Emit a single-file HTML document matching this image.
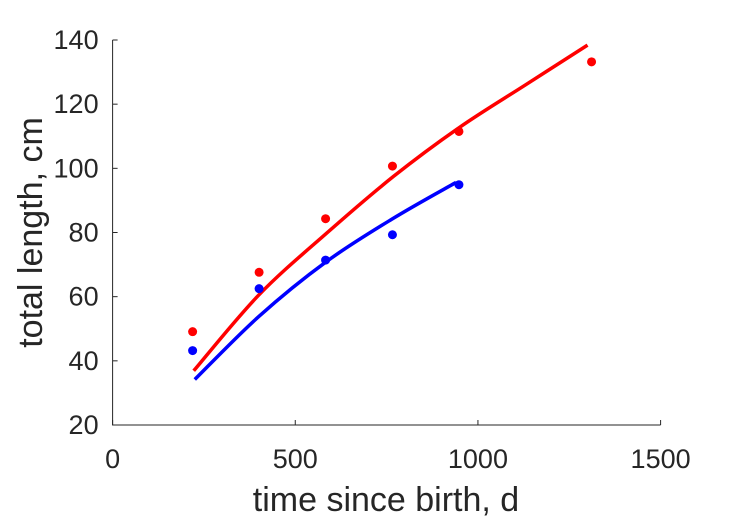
<!DOCTYPE html>
<html><head><meta charset="utf-8"><style>
body{margin:0;background:#fff}
svg{display:block;font-family:"Liberation Sans",sans-serif}
</style></head><body>
<svg id="chart" width="729" height="521" viewBox="0 0 729 521" xmlns="http://www.w3.org/2000/svg">
<rect width="729" height="521" fill="#fff"/>
<g id="axes"></g>
<g id="plot"></g>
</svg>
<script>
const xTicks=[0,500,1000,1500];
const yTicks=[20,40,60,80,100,120,140];
const redX=[219,401,583,766,948,1311];
const redY=[49.1,67.6,84.3,100.7,111.5,133.2];
const blueX=[219,401,583,766,948];
const blueY=[43.2,62.5,71.4,79.3,94.9];
const redFitX=[222,400,585,768,950,1130,1300];
const redFitY=[36.9,60.5,79.7,97.4,112.8,126,138.4];
const blueFitX=[225,400,585,768,940];
const blueFitY=[34.2,53.8,70.9,84.4,95.6];
const X0=112.6,X1=660.6,Y0=425,Y1=40;
const sx=v=>X0+(v-0)/1500*(X1-X0);
const sy=v=>Y0-(v-20)/120*(Y0-Y1);
const NS="http://www.w3.org/2000/svg";
const axes=document.getElementById('axes'),plot=document.getElementById('plot');
function mk(tag,attrs,parent){const e=document.createElementNS(NS,tag);for(const k in attrs)e.setAttribute(k,attrs[k]);parent.appendChild(e);return e;}
let ax=mk('path',{d:`M${X0},${Y1}V${Y0}H${X1}`,stroke:'#262626','stroke-width':1,fill:'none'},axes);


xTicks.forEach(t=>{
 let l=mk('line',{x1:sx(t),x2:sx(t),y1:Y0,y2:Y0-5,stroke:'#262626'},axes);
 
 
 let tx=mk('text',{x:sx(t),y:Y0+43,'text-anchor':'middle','font-size':27,fill:'#262626'},axes);
 tx.textContent=t;
 
 
});
yTicks.forEach(t=>{
 let l=mk('line',{x1:X0,x2:X0+5,y1:sy(t),y2:sy(t),stroke:'#262626'},axes);
 
 
 let tx=mk('text',{x:X0-14,y:sy(t)+9,'text-anchor':'end','font-size':27,fill:'#262626'},axes);
 tx.textContent=t;
 
 
});
let xt=mk('text',{x:386,y:511,'text-anchor':'middle','font-size':34,fill:'#262626'},axes);
xt.textContent='time since birth, d';


let yt=mk('text',{x:0,y:0,'text-anchor':'middle','font-size':34,fill:'#262626',transform:`translate(42,${(Y0+Y1)/2}) rotate(-90)`},axes);
yt.textContent='total length, cm';


function line(xs,ys,col,name){
 const P=xs.map((x,i)=>[sx(x),sy(ys[i])]);
 let d='M'+P[0][0]+','+P[0][1];
 for(let i=0;i<P.length-1;i++){
  const p0=P[i-1]||P[i],p1=P[i],p2=P[i+1],p3=P[i+2]||P[i+1];
  const c1=[p1[0]+(p2[0]-p0[0])/6,p1[1]+(p2[1]-p0[1])/6];
  const c2=[p2[0]-(p3[0]-p1[0])/6,p2[1]-(p3[1]-p1[1])/6];
  d+=`C${c1[0]},${c1[1]} ${c2[0]},${c2[1]} ${p2[0]},${p2[1]}`;
 }
 let p=mk('path',{d:d,stroke:col,'stroke-width':3.5,fill:'none','stroke-linejoin':'round'},plot);
 
 
}
function pts(xs,ys,col,name){
 xs.forEach((x,i)=>{
  let c=mk('circle',{cx:sx(x),cy:sy(ys[i]),r:4.5,fill:col},plot);
  
  
 });
}
line(redFitX,redFitY,'#ff0000','red-fit-line');
line(blueFitX,blueFitY,'#0000ff','blue-fit-line');
pts(redX,redY,'#ff0000','red-point');
pts(blueX,blueY,'#0000ff','blue-point');
</script>
</body></html>
